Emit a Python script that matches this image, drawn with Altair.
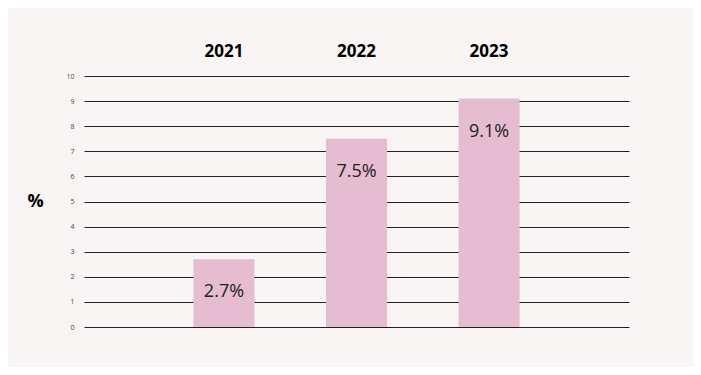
import altair as alt
import pandas as pd

years = ["2021", "2022", "2023"]
values = [2.7, 7.5, 9.1]
labels = ["2.7%", "7.5%", "9.1%"]
y_ticks = list(range(0, 11))

df = pd.DataFrame({"year": years, "value": values, "label": labels})

FONT = "Open Sans"
BG = "#f9f5f4"

x = alt.X(
    "year:N",
    sort=years,
    scale=alt.Scale(paddingInner=0.54, paddingOuter=0.826),
    axis=alt.Axis(
        orient="top", title=None, labelAngle=0, domain=False, ticks=False,
        labelFont=FONT, labelFontSize=17, labelFontWeight="bold",
        labelColor="#000000", labelPadding=16,
    ),
)
y = alt.Y(
    "value:Q",
    scale=alt.Scale(domain=[0, 10], nice=False),
    axis=alt.Axis(
        values=y_ticks, title="%", titleAngle=0, titleFont=FONT,
        titleFontSize=18, titleFontWeight="bold", titleColor="#000000",
        titleX=-49, titleY=125.5, titleAlign="center", titleBaseline="middle",
        domain=False, ticks=False, grid=True, gridColor="#222222",
        gridWidth=1.2, labelFont=FONT, labelFontSize=7, labelColor="#444444",
        labelPadding=10, labelOverlap=False,
    ),
)

bars = alt.Chart(df).mark_bar(color="#e5bcd0", width=61).encode(x=x, y=y)
text = alt.Chart(df).mark_text(
    font=FONT, fontSize=18, color="#222222", baseline="middle", dy=33
).encode(x=x, y=y, text="label:N")

chart = (
    alt.layer(bars, text)
    .properties(
        width=545, height=251, autosize="none",
        padding={"left": 76, "top": 68, "right": 64, "bottom": 40},
        background=BG,
    )
    .configure_view(stroke=None)
)

chart.save("out.html", embed_options={"renderer": "svg", "actions": False})
